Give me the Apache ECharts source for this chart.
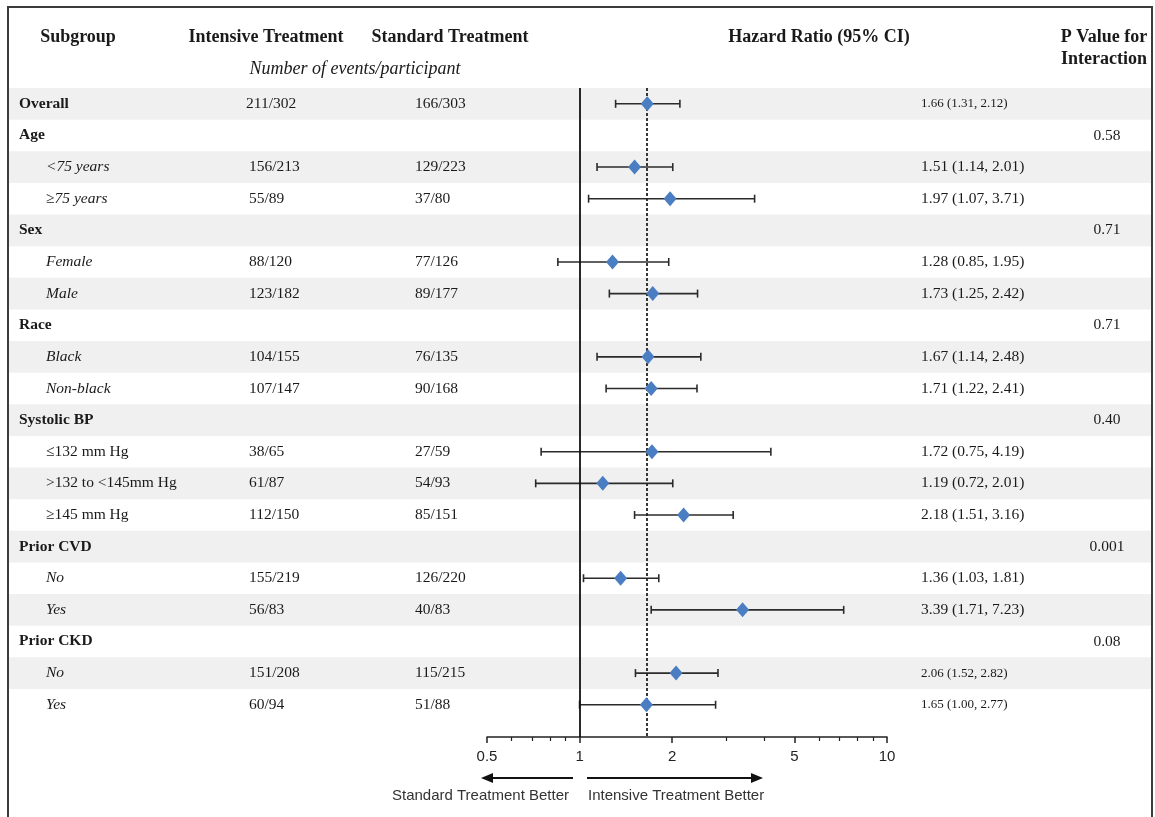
<!DOCTYPE html>
<html>
<head>
<meta charset="utf-8">
<title>Subgroup forest plot</title>
<script src="https://cdn.jsdelivr.net/npm/echarts@6/dist/echarts.min.js"></script>
<style>
  html, body { margin: 0; padding: 0; background: #fff; }
  #chart { width: 1155px; height: 817px; }
</style>
</head>
<body>
<div id="chart"></div>
<script>
// one entry per table row, top to bottom
const subgroups = ['Overall', 'Age', '<75 years', '≥75 years', 'Sex', 'Female', 'Male', 'Race', 'Black', 'Non-black',
  'Systolic BP', '≤132 mm Hg', '>132 to <145mm Hg', '≥145 mm Hg', 'Prior CVD', 'No', 'Yes', 'Prior CKD', 'No', 'Yes']
const intensiveEvents = ['211/302', '', '156/213', '55/89', '', '88/120', '123/182', '', '104/155', '107/147',
  '', '38/65', '61/87', '112/150', '', '155/219', '56/83', '', '151/208', '60/94']
const standardEvents = ['166/303', '', '129/223', '37/80', '', '77/126', '89/177', '', '76/135', '90/168',
  '', '27/59', '54/93', '85/151', '', '126/220', '40/83', '', '115/215', '51/88']
const hazardRatio = [1.66, null, 1.51, 1.97, null, 1.28, 1.73, null, 1.67, 1.71,
  null, 1.72, 1.19, 2.18, null, 1.36, 3.39, null, 2.06, 1.65]
const ciLower = [1.31, null, 1.14, 1.07, null, 0.85, 1.25, null, 1.14, 1.22,
  null, 0.75, 0.72, 1.51, null, 1.03, 1.71, null, 1.52, 1.00]
const ciUpper = [2.12, null, 2.01, 3.71, null, 1.95, 2.42, null, 2.48, 2.41,
  null, 4.19, 2.01, 3.16, null, 1.81, 7.23, null, 2.82, 2.77]
const pInteraction = ['', '0.58', '', '', '0.71', '', '', '0.71', '', '',
  '0.40', '', '', '', '0.001', '', '', '0.08', '', '']
const axisTicks = [0.5, 1, 2, 5, 10]
const minorTicks = [0.6, 0.7, 0.8, 0.9, 3, 4, 6, 7, 8, 9]

const headingRows = [0, 1, 4, 7, 10, 14, 17]
const uprightRows = [11, 12, 13]
const smallHrRows = [0, 18, 19]

const SERIF = '"Liberation Serif", "Times New Roman", serif'
const SANS = '"Liberation Sans", Arial, sans-serif'
const yMax = 20.02

const hrText = hazardRatio.map((v, i) =>
  v == null ? '' : v.toFixed(2) + ' (' + ciLower[i].toFixed(2) + ', ' + ciUpper[i].toFixed(2) + ')')

// text column drawn on the full-width table grid
const textColumn = (texts, x, align, styleFor) => ({
  type: 'custom',
  xAxisIndex: 0,
  yAxisIndex: 0,
  silent: true,
  z: 5,
  encode: { x: 0, y: 1 },
  data: texts.map((t, i) => [x(i), i]).filter((d) => texts[d[1]] !== ''),
  renderItem: (params, api) => {
    const row = api.value(1)
    const p = api.coord([api.value(0), row])
    const st = styleFor(row)
    return {
      type: 'text',
      x: p[0],
      y: p[1],
      style: {
        text: texts[row],
        fill: '#1a1a1a',
        fontFamily: SERIF,
        fontSize: st.size || 15.5,
        fontWeight: st.weight || 'normal',
        fontStyle: st.style || 'normal',
        align: align,
        verticalAlign: 'middle',
      },
    }
  },
})

const chart = echarts.init(document.getElementById('chart'))

const headerText = (text, x, y, opts) => ({
  type: 'text',
  x: x,
  y: y,
  style: Object.assign({
    text: text,
    fill: '#1a1a1a',
    fontFamily: SERIF,
    fontSize: 18,
    fontWeight: 'bold',
    align: 'center',
    verticalAlign: 'middle',
  }, opts || {}),
})

const option = {
  backgroundColor: '#fff',
  animation: false,
  grid: [
    { left: 0, right: 0, top: 88, height: 649 },
    { left: 487, width: 400, top: 88, height: 649 },
  ],
  xAxis: [
    { gridIndex: 0, type: 'value', min: 0, max: 1155, show: false },
    {
      gridIndex: 1,
      type: 'log',
      logBase: 10,
      min: 0.5,
      max: 10,
      position: 'bottom',
      axisLine: { show: true, onZero: false, lineStyle: { color: '#222', width: 1.5 } },
      axisTick: { show: true, customValues: axisTicks, length: 6, lineStyle: { color: '#222', width: 1.5 } },
      axisLabel: {
        show: true,
        customValues: axisTicks,
        margin: 12,
        color: '#222',
        fontFamily: SANS,
        fontSize: 15,
        formatter: (v) => String(+v.toFixed(2)),
      },
      splitLine: { show: false },
      minorTick: { show: false },
    },
    {
      gridIndex: 1,
      type: 'log',
      logBase: 10,
      min: 0.5,
      max: 10,
      position: 'bottom',
      axisLine: { show: false, onZero: false },
      axisTick: { show: true, customValues: minorTicks, length: 4, lineStyle: { color: '#222', width: 1.2 } },
      axisLabel: { show: false },
      splitLine: { show: false },
    },
  ],
  yAxis: [
    { gridIndex: 0, type: 'value', min: -0.5, max: yMax, inverse: true, show: false },
    { gridIndex: 1, type: 'value', min: -0.5, max: yMax, inverse: true, show: false },
  ],
  graphic: [
    {
      type: 'rect',
      shape: { x: 8, y: 7, width: 1144, height: 850 },
      style: { fill: 'none', stroke: '#3c3c3c', lineWidth: 2 },
      z: 100,
    },
    headerText('Subgroup', 78, 37),
    headerText('Intensive Treatment', 266, 37),
    headerText('Standard Treatment', 450, 37),
    headerText('Number of events/participant', 355, 69, { fontWeight: 'normal', fontStyle: 'italic' }),
    headerText('Hazard Ratio (95% CI)', 819, 37),
    headerText('P Value for', 1104, 37),
    headerText('Interaction', 1104, 59),
    // direction arrows under the axis
    { type: 'line', shape: { x1: 573, y1: 778, x2: 490, y2: 778 }, style: { stroke: '#111', lineWidth: 2 } },
    { type: 'polygon', shape: { points: [[481, 778], [493, 773], [493, 783]] }, style: { fill: '#111' } },
    { type: 'line', shape: { x1: 587, y1: 778, x2: 752, y2: 778 }, style: { stroke: '#111', lineWidth: 2 } },
    { type: 'polygon', shape: { points: [[763, 778], [751, 773], [751, 783]] }, style: { fill: '#111' } },
    headerText('Standard Treatment Better', 569, 796, { fontFamily: SANS, fontSize: 15, fontWeight: 'normal', align: 'right', fill: '#333' }),
    headerText('Intensive Treatment Better', 588, 796, { fontFamily: SANS, fontSize: 15, fontWeight: 'normal', align: 'left', fill: '#333' }),
  ],
  series: [
    // alternating grey row bands
    {
      type: 'custom',
      xAxisIndex: 0,
      yAxisIndex: 0,
      silent: true,
      z: 0,
      encode: { x: 0, y: 1 },
      data: subgroups.map((s, i) => [0, i]).filter((d) => d[1] % 2 === 0),
      renderItem: (params, api) => {
        const row = api.value(1)
        const a = api.coord([9, row - 0.5])
        const b = api.coord([1152, row + 0.5])
        return {
          type: 'rect',
          shape: { x: a[0], y: a[1], width: b[0] - a[0], height: b[1] - a[1] },
          style: { fill: '#f0f0f0' },
        }
      },
    },
    textColumn(subgroups, (i) => (headingRows.includes(i) ? 19 : 46), 'left', (i) => {
      if (headingRows.includes(i)) return { weight: 'bold' }
      return { style: uprightRows.includes(i) ? 'normal' : 'italic' }
    }),
    textColumn(intensiveEvents, (i) => (i === 0 ? 246 : 249), 'left', () => ({})),
    textColumn(standardEvents, (i) => 415, 'left', () => ({})),
    textColumn(hrText, (i) => 921, 'left', (i) => (smallHrRows.includes(i) ? { size: 13 } : {})),
    textColumn(pInteraction, (i) => 1107, 'center', () => ({})),
    // confidence intervals
    {
      type: 'custom',
      xAxisIndex: 1,
      yAxisIndex: 1,
      silent: true,
      z: 6,
      encode: { x: [0, 2], y: 1 },
      data: hazardRatio.map((v, i) => [ciLower[i], i, ciUpper[i]]).filter((d) => d[0] != null),
      renderItem: (params, api) => {
        const row = api.value(1)
        const a = api.coord([api.value(0), row])
        const b = api.coord([api.value(2), row])
        const cap = 4
        const stroke = { stroke: '#2b2b2b', lineWidth: 1.6 }
        return {
          type: 'group',
          children: [
            { type: 'line', shape: { x1: a[0], y1: a[1], x2: b[0], y2: b[1] }, style: stroke },
            { type: 'line', shape: { x1: a[0], y1: a[1] - cap, x2: a[0], y2: a[1] + cap }, style: stroke },
            { type: 'line', shape: { x1: b[0], y1: b[1] - cap, x2: b[0], y2: b[1] + cap }, style: stroke },
          ],
        }
      },
    },
    // point estimates
    {
      type: 'scatter',
      xAxisIndex: 1,
      yAxisIndex: 1,
      silent: true,
      z: 8,
      symbol: 'diamond',
      symbolSize: [13, 15],
      itemStyle: { color: '#4a7dc1', opacity: 1 },
      data: hazardRatio.map((v, i) => [v, i]).filter((d) => d[0] != null),
      markLine: {
        silent: true,
        symbol: 'none',
        label: { show: false },
        z: 7,
        data: [
          { xAxis: 1, lineStyle: { color: '#111', width: 1.8, type: 'solid' } },
          { xAxis: hazardRatio[0], lineStyle: { color: '#222', width: 1.8, type: [3, 2] } },
        ],
      },
    },
  ],
}

chart.setOption(option)

window.addEventListener('resize', () => {
  chart.resize()
})
</script>
</body>
</html>
